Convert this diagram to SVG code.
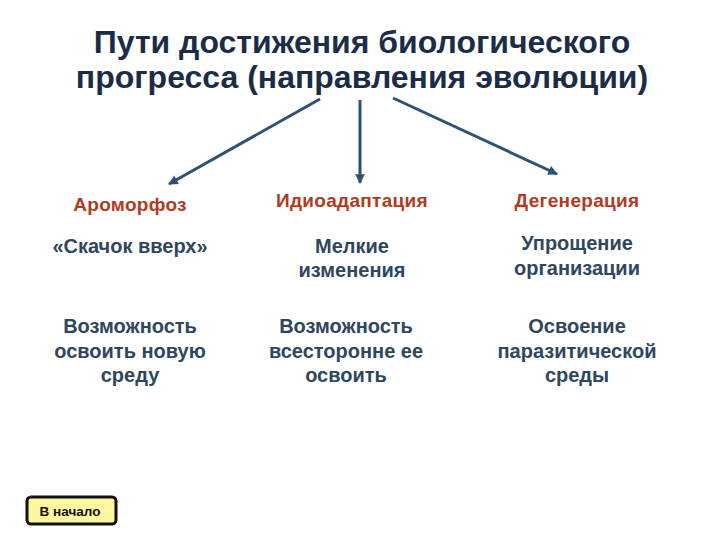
<svg xmlns="http://www.w3.org/2000/svg" width="720" height="540" viewBox="0 0 720 540">
<defs>
<style>
.t{font-family:"Liberation Sans",Arial,sans-serif;font-weight:bold;text-anchor:middle}
.title{font-size:32px;fill:#1b2c48}
.h{font-size:19px;fill:#b23a1e;letter-spacing:0.3px}
.b{font-size:20px;fill:#2f475e}
.c{stroke:#2e5273;stroke-width:3;fill:none;marker-end:url(#ah)}
</style>
<marker id="ah" viewBox="0 0 10 10" refX="9" refY="5" markerWidth="4.5" markerHeight="3.2" orient="auto" markerUnits="strokeWidth">
<path d="M0,0 L10,5 L0,10 z" fill="#2e5273"/>
</marker>
</defs>
<rect width="720" height="540" fill="#ffffff"/>
<g id="title">
<text class="t title" x="362" y="53">Пути достижения биологического</text>
<text class="t title" x="362" y="88">прогресса (направления эволюции)</text>
</g>
<g id="connectors">
<line class="c" x1="320" y1="99" x2="169" y2="184"/>
<line class="c" x1="360" y1="100" x2="360" y2="183"/>
<line class="c" x1="393" y1="98" x2="557" y2="174"/>
</g>
<g id="aromorfoz">
<text class="t h" x="130" y="211">Ароморфоз</text>
<text class="t b" x="130" y="253">«Скачок вверх»</text>
<text class="t b" x="130" y="333">Возможность</text>
<text class="t b" x="130" y="358">освоить новую</text>
<text class="t b" x="130" y="382">среду</text>
</g>
<g id="idioadaptation">
<text class="t h" x="352" y="207">Идиоадаптация</text>
<text class="t b" x="352" y="253">Мелкие</text>
<text class="t b" x="352" y="277">изменения</text>
<text class="t b" x="346" y="333">Возможность</text>
<text class="t b" x="346" y="358">всесторонне ее</text>
<text class="t b" x="346" y="382">освоить</text>
</g>
<g id="degeneration">
<text class="t h" x="577" y="207">Дегенерация</text>
<text class="t b" x="577" y="250">Упрощение</text>
<text class="t b" x="577" y="275">организации</text>
<text class="t b" x="577" y="333">Освоение</text>
<text class="t b" x="577" y="358">паразитической</text>
<text class="t b" x="577" y="382">среды</text>
</g>
<g id="button">
<rect x="27" y="497" width="89" height="27" rx="4" fill="#fff6a0" stroke="#111" stroke-width="3"/>
<text class="t" x="70" y="516" font-size="13.5" fill="#111">В начало</text>
</g>
</svg>
